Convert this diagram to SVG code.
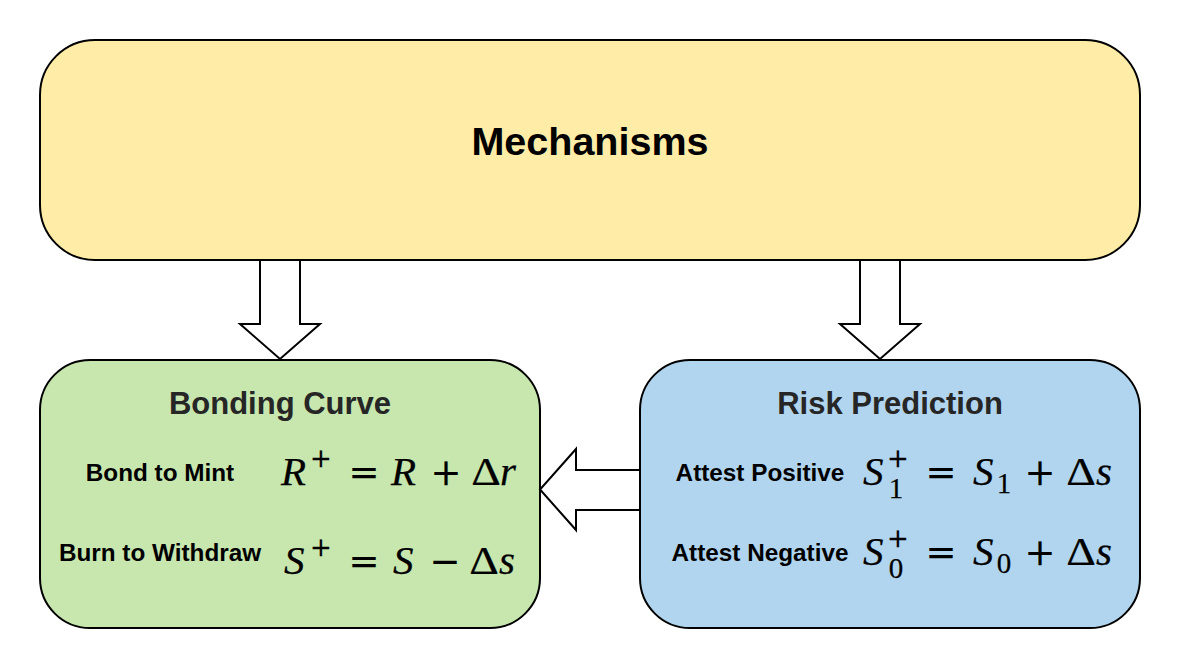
<svg xmlns="http://www.w3.org/2000/svg" width="1180" height="669" viewBox="0 0 1180 669">
<style>
.box{stroke:#000;stroke-width:2}
.arrow{fill:#fff;stroke:#000;stroke-width:2;stroke-linejoin:miter}
.title{font-family:"Liberation Sans",Arial,sans-serif;font-weight:bold;text-anchor:middle}
.lbl{font-family:"Liberation Sans",Arial,sans-serif;font-weight:bold;font-size:24.3px;text-anchor:middle;fill:#000}
.m{fill:#000;stroke:#000;stroke-width:0.25}
.v{font-family:"Liberation Serif","Times New Roman",serif;font-style:italic;font-size:41px}
.n{font-family:"Liberation Serif","Times New Roman",serif;font-size:29px;text-anchor:middle}
.op{font-family:"DejaVu Serif",serif;font-size:37px;text-anchor:middle}
.sup{font-family:"DejaVu Serif",serif;font-size:26px;text-anchor:middle}
.d{font-family:"Liberation Serif","Times New Roman",serif;font-size:40px;text-anchor:middle}
</style>
<rect width="1180" height="669" fill="#fff"/>
<g id="mechanisms">
<rect class="box" x="40" y="40" width="1100" height="220" rx="55" ry="55" fill="#FFECA6"/>
<text class="title" x="590" y="155" font-size="39.5" fill="#000">Mechanisms</text>
</g>
<g id="bonding-curve">
<rect class="box" x="40" y="360" width="500" height="268" rx="50" ry="50" fill="#C7E7AE"/>
<text class="title" x="280" y="414" font-size="31" fill="#262626">Bonding Curve</text>
<text class="lbl" x="160" y="481">Bond to Mint</text>
<text class="lbl" x="160" y="561">Burn to Withdraw</text>
<g class="m">
<text class="v" x="281" y="485">R</text>
<text class="sup" x="321" y="467">+</text>
<text class="op" x="364" y="485">=</text>
<text class="v" x="391" y="485">R</text>
<text class="op" x="446" y="485">+</text>
<text class="d" x="486" y="485" transform="translate(486 485) scale(1.15 1) translate(-486 -485)">Δ</text>
<text class="v" x="500" y="485">r</text>
<text class="v" x="284" y="574">S</text>
<text class="sup" x="321" y="556">+</text>
<text class="op" x="364" y="574">=</text>
<text class="v" x="393" y="574">S</text>
<text class="op" x="445" y="574">−</text>
<text class="d" x="484" y="574" transform="translate(484 574) scale(1.15 1) translate(-484 -574)">Δ</text>
<text class="v" x="499" y="574">s</text>
</g>
</g>
<g id="risk-prediction">
<rect class="box" x="640" y="360" width="500" height="268" rx="50" ry="50" fill="#B1D5EE"/>
<text class="title" x="890" y="414" font-size="31" fill="#262626">Risk Prediction</text>
<text class="lbl" x="760" y="481">Attest Positive</text>
<text class="lbl" x="760" y="561">Attest Negative</text>
<g class="m">
<text class="v" x="863" y="485">S</text>
<text class="sup" x="898" y="467">+</text>
<text class="n" x="896" y="498">1</text>
<text class="op" x="941" y="485">=</text>
<text class="v" x="973" y="485">S</text>
<text class="n" x="1004" y="493">1</text>
<text class="op" x="1040" y="485">+</text>
<text class="d" x="1081" y="485" transform="translate(1081 485) scale(1.15 1) translate(-1081 -485)">Δ</text>
<text class="v" x="1096" y="485">s</text>
<text class="v" x="863" y="565">S</text>
<text class="sup" x="898" y="547">+</text>
<text class="n" x="896" y="578">0</text>
<text class="op" x="941" y="565">=</text>
<text class="v" x="973" y="565">S</text>
<text class="n" x="1004" y="573">0</text>
<text class="op" x="1040" y="565">+</text>
<text class="d" x="1081" y="565" transform="translate(1081 565) scale(1.15 1) translate(-1081 -565)">Δ</text>
<text class="v" x="1096" y="565">s</text>
</g>
</g>
<g id="connectors">
<path class="arrow" d="M260 261 L260 324 L240 324 L280 359 L320 324 L300 324 L300 261"/>
<path class="arrow" d="M860 261 L860 324 L840 324 L880 359 L920 324 L900 324 L900 261"/>
<path class="arrow" d="M639 470 L576 470 L576 449 L540 489.5 L576 530 L576 510 L639 510"/>
</g>
</svg>
